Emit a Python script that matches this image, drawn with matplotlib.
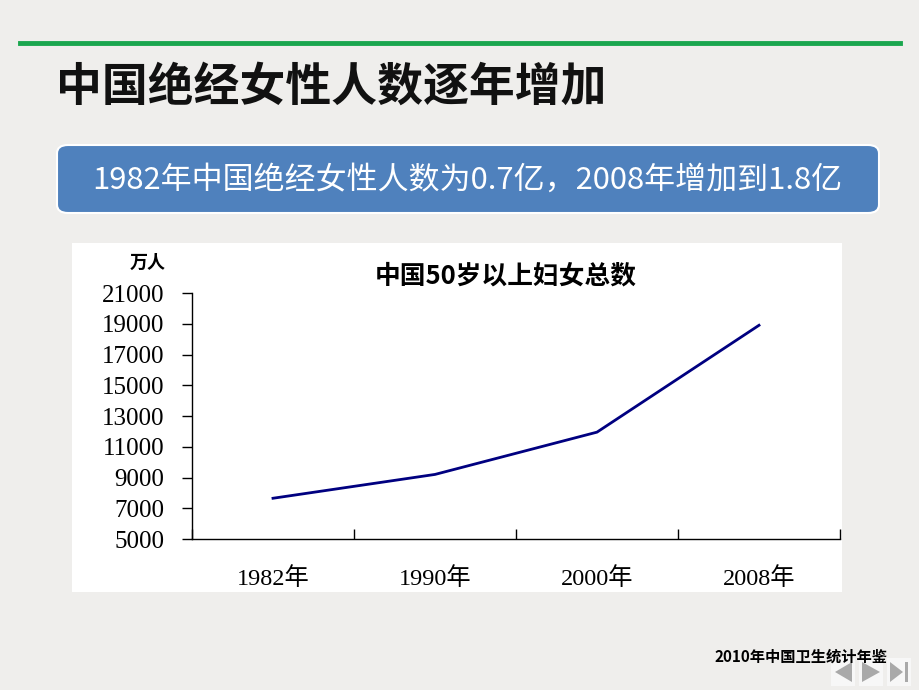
import matplotlib.pyplot as plt
from matplotlib.patches import FancyBboxPatch, Rectangle, Polygon

plt.rcParams['font.family'] = ['Noto Sans CJK SC', 'DejaVu Sans']

years = ['1982年', '1990年', '2000年', '2008年']
women = [7650, 9200, 11950, 18900]
yticks = [5000, 7000, 9000, 11000, 13000, 15000, 17000, 19000, 21000]

W, H = 920, 690
fig = plt.figure(figsize=(9.2, 6.9), dpi=100)
fig.patch.set_facecolor('#efeeec')


def fx(px):
    return px / W


def fy(py):
    return 1 - py / H


# green rule under the header
fig.add_artist(plt.Line2D([fx(20), fx(900)], [fy(43), fy(43)], color='#1aa64e', lw=3.5))

fig.text(fx(56), fy(88), '中国绝经女性人数逐年增加', fontsize=33, fontweight='bold',
         va='center', ha='left', color='#111111')

# blue banner
box = FancyBboxPatch((fx(57), fy(213)), fx(822), fy(145) - fy(213),
                     boxstyle='round,pad=0,rounding_size=0.012',
                     transform=fig.transFigure, fc='#4f81bd', ec='white', lw=1.5)
fig.add_artist(box)
fig.text(fx(467), fy(180), '1982年中国绝经女性人数为0.7亿，2008年增加到1.8亿',
         fontsize=22.3, color='white', ha='center', va='center')

# white chart panel
fig.add_artist(Rectangle((fx(72), fy(592)), fx(770), fy(243) - fy(592),
                         transform=fig.transFigure, fc='white', ec='none', zorder=-1))

ax = fig.add_axes([fx(192), fy(539), fx(648), fy(293) - fy(539)])
ax.set_zorder(2)
ax.set_facecolor('white')
x = range(len(years))
ax.plot(x, women, color='#000080', lw=2)
ax.set_xlim(-0.5, len(years) - 0.5)
ax.set_ylim(5000, 21000)
ax.set_yticks(yticks)
ax.set_yticklabels([str(v) for v in yticks], family=['Liberation Serif'], fontsize=18)
ax.set_xticks([i - 0.5 for i in range(len(years) + 1)])
ax.set_xticklabels([])
ax.set_xticks(list(x), minor=True)
ax.set_xticklabels(years, minor=True, family=['Liberation Serif', 'Noto Sans CJK SC'], fontsize=17.5)
ax.tick_params(axis='x', which='major', direction='in', length=7, width=1)
ax.tick_params(axis='x', which='minor', length=0, pad=20)
ax.tick_params(axis='y', direction='out', length=7, width=1, pad=13)
for s in ['top', 'right']:
    ax.spines[s].set_visible(False)
for s in ['left', 'bottom']:
    ax.spines[s].set_linewidth(1)

fig.text(fx(148), fy(262), '万人', fontsize=13, fontweight='bold', ha='center', va='center')
fig.text(fx(506), fy(276), '中国50岁以上妇女总数', fontsize=18.5, fontweight='bold',
         ha='center', va='center')

fig.text(fx(888), fy(657), '2010年中国卫生统计年鉴', fontsize=11, fontweight='bold',
         ha='right', va='center')

# navigation buttons
for cx in [843, 871, 899]:
    fig.add_artist(Rectangle((fx(cx - 12), fy(686)), fx(24), fy(658) - fy(686),
                             transform=fig.transFigure, fc='#f7f7f7', ec='none'))
nav = [
    [(852, 662), (852, 682), (835, 672)],
    [(862, 662), (862, 682), (880, 672)],
    [(890, 662), (890, 682), (903, 672)],
]
for tri in nav:
    fig.add_artist(Polygon([(fx(a), fy(b)) for a, b in tri], closed=True,
                           transform=fig.transFigure, fc='#a9a9a9', ec='none'))
fig.add_artist(Rectangle((fx(905), fy(682)), fx(3), fy(662) - fy(682),
                         transform=fig.transFigure, fc='#a9a9a9', ec='none'))

fig.savefig('out.png', dpi=100, facecolor=fig.get_facecolor())
